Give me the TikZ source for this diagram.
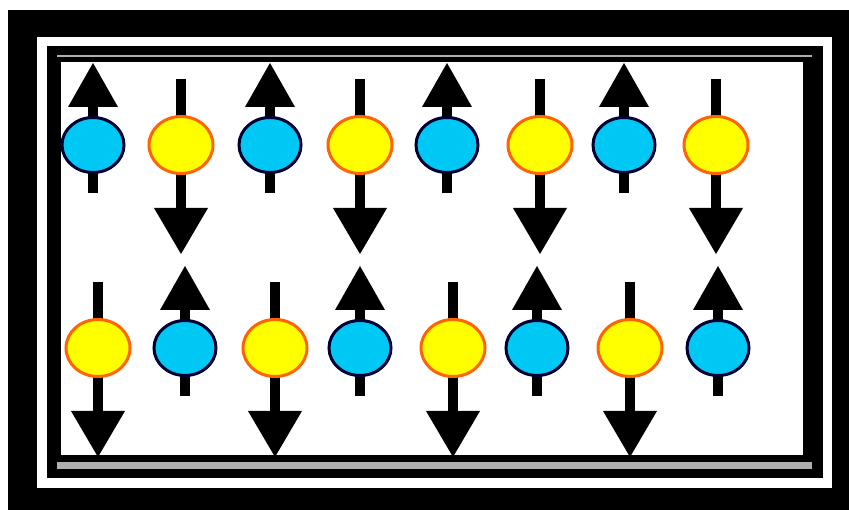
\documentclass[tikz,border=0pt]{standalone}
\usetikzlibrary{shapes.geometric}
\definecolor{spinblue}{RGB}{0,200,245}
\definecolor{spinnavy}{RGB}{0,0,50}
\definecolor{spinyellow}{RGB}{255,255,0}
\definecolor{spinorange}{RGB}{255,100,0}
\definecolor{rimgrey}{RGB}{175,175,175}
\tikzset{
  upball/.style={ellipse, minimum width=62pt, minimum height=55pt, inner sep=0pt,
    fill=spinblue, draw=spinnavy, line width=3pt},
  downball/.style={ellipse, minimum width=64pt, minimum height=57pt, inner sep=0pt,
    fill=spinyellow, draw=spinorange, line width=3pt},
}
\newcommand{\spinUp}[3]{%
  \fill[black] (#2-5,#3-40) rectangle (#2+5,#3+48);
  \fill[black] (#2,#3-82) -- (#2-25,#3-38) -- (#2+25,#3-38) -- cycle;
  \node[upball] (#1) at (#2,#3) {};
}
\newcommand{\spinDown}[3]{%
  \fill[black] (#2-5,#3-66) rectangle (#2+5,#3+66);
  \fill[black] (#2-27,#3+63) -- (#2+27,#3+63) -- (#2,#3+109) -- cycle;
  \node[downball] (#1) at (#2,#3) {};
}
\begin{document}
\begin{tikzpicture}[x=1pt,y=-1pt]
  \useasboundingbox (0,0) rectangle (849,510);
  \fill[white] (0,0) rectangle (849,510);
  % frame
  \fill[black] (8,10) rectangle (849,510);
  \fill[white] (37,37) rectangle (832,488);
  \fill[black] (47,46) rectangle (823,478);
  \fill[rimgrey] (57,55) rectangle (812,57);
  \fill[rimgrey] (57,462) rectangle (812,469);
  \fill[white] (61,62) rectangle (803,455);
  % top row
  \spinUp{t1}{93}{145}
  \spinDown{t2}{181}{145}
  \spinUp{t3}{270}{145}
  \spinDown{t4}{360}{145}
  \spinUp{t5}{447}{145}
  \spinDown{t6}{540}{145}
  \spinUp{t7}{624}{145}
  \spinDown{t8}{716}{145}
  % bottom row
  \spinDown{b1}{98}{348}
  \spinUp{b2}{185}{348}
  \spinDown{b3}{275}{348}
  \spinUp{b4}{360}{348}
  \spinDown{b5}{453}{348}
  \spinUp{b6}{537}{348}
  \spinDown{b7}{630}{348}
  \spinUp{b8}{718}{348}
\end{tikzpicture}
\end{document}
